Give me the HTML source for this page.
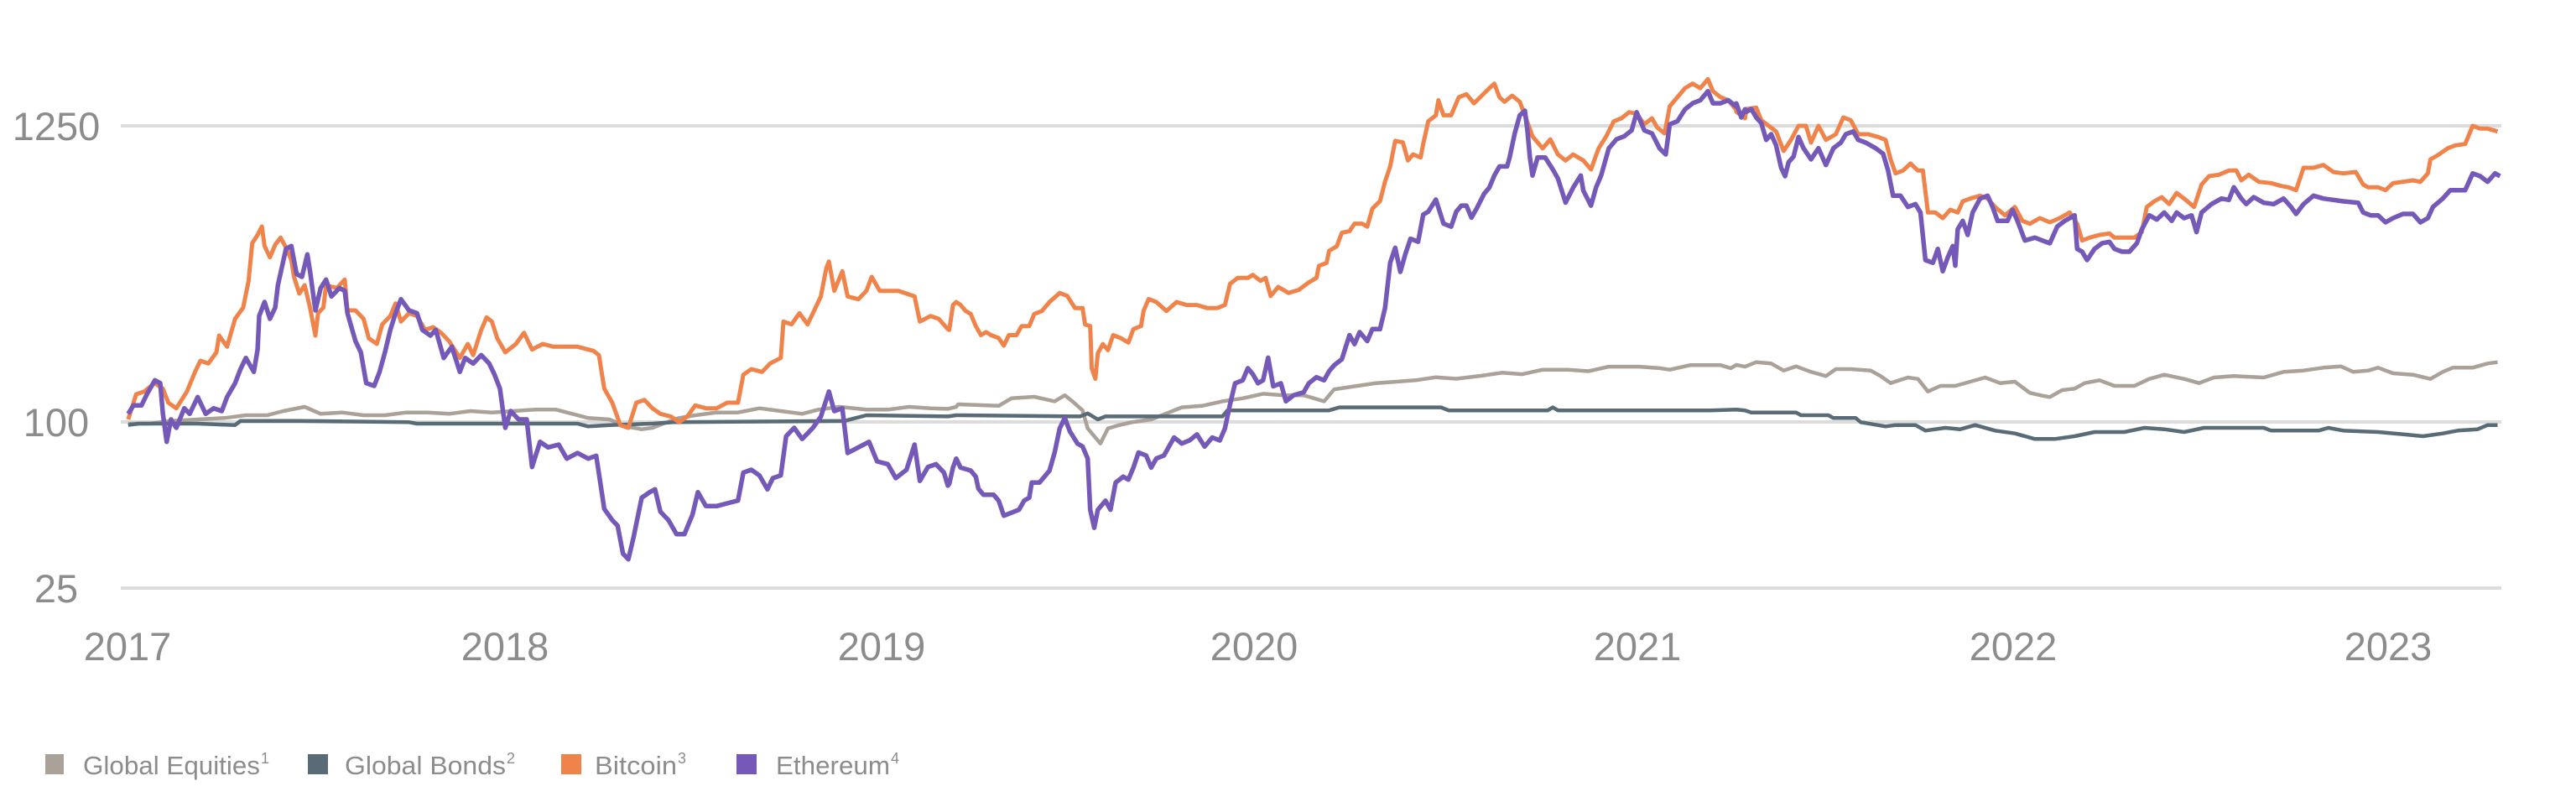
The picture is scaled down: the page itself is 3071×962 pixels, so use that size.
<!DOCTYPE html>
<html><head><meta charset="utf-8">
<style>
html,body{margin:0;padding:0;background:#fff;}
body{width:3071px;height:962px;overflow:hidden;position:relative;font-family:"Liberation Sans",sans-serif;}
svg{position:absolute;left:0;top:0;}
.t{fill:#8c8c8c;font-family:"Liberation Sans",sans-serif;}
</style></head><body>
<svg id="s" width="3071" height="962" viewBox="0 0 3071 962">
<line x1="144" y1="150" x2="2982" y2="150" stroke="#dcdcdc" stroke-width="4"/>
<line x1="144" y1="503" x2="2982" y2="503" stroke="#dcdcdc" stroke-width="4"/>
<line x1="144" y1="701" x2="2982" y2="701" stroke="#dcdcdc" stroke-width="4"/>
<g class="t" font-size="47" text-anchor="middle">
<text x="67" y="167">1250</text>
<text x="67" y="520">100</text>
<text x="67" y="718">25</text>
<text x="152" y="787">2017</text>
<text x="602" y="787">2018</text>
<text x="1051" y="787">2019</text>
<text x="1495" y="787">2020</text>
<text x="1952" y="787">2021</text>
<text x="2400" y="787">2022</text>
<text x="2847" y="787">2023</text>
</g>
<g id="series"></g>
<rect x="54" y="899" width="22" height="24" fill="#aaa198"/>
<rect x="367" y="899" width="24" height="24" fill="#596b76"/>
<rect x="669" y="899" width="24" height="24" fill="#f0834a"/>
<rect x="878" y="899" width="24" height="24" fill="#7559b8"/>
<g class="t" font-size="31">
<text x="99" y="923" textLength="211" lengthAdjust="spacingAndGlyphs">Global Equities</text><text x="311" y="910" font-size="18">1</text>
<text x="411" y="923" textLength="192" lengthAdjust="spacingAndGlyphs">Global Bonds</text><text x="604" y="910" font-size="18">2</text>
<text x="709" y="923" textLength="98" lengthAdjust="spacingAndGlyphs">Bitcoin</text><text x="808" y="910" font-size="18">3</text>
<text x="925" y="923" textLength="136" lengthAdjust="spacingAndGlyphs">Ethereum</text><text x="1062" y="910" font-size="18">4</text>
</g>
</svg>
<script>
var T7=function(p){return [140+p[0]/1.568,180+p[1]/3];};
var T8=function(p){return [1130+p[0]/1.65,80+p[1]/2.786];};
var T9=function(p){return [2070+p[0]/1.686,80+p[1]/3];};
function cv(a,T){var r=[];for(var i=0;i<a.length;i+=2)r.push(T([a[i],a[i+1]]));return r;}
var btc7=[20,960,35,870,50,860,70,830,85,850,95,900,110,920,130,860,145,790,155,750,170,760,185,720,190,660,205,700,220,600,235,560,245,465,252,330,262,300,270,270,275,340,285,380,295,335,305,310,315,345,325,390,330,450,340,510,350,480,360,560,370,660,375,580,385,560,390,480,410,490,425,460,430,570,445,570,460,600,470,670,485,690,495,620,510,590,520,545,530,610,545,580,560,590,575,640,590,630,605,650,620,680,640,740,655,690,665,730,680,640,690,595,700,610,710,670,725,720,745,690,760,650,775,710,795,690,815,700,835,700,860,700,890,715,900,730,910,850,925,900,940,980,955,990,970,900,985,890,1000,920,1015,940,1035,950,1050,970,1065,950,1080,910,1100,920,1120,920,1140,900,1160,900,1170,800,1185,780,1205,790,1220,760,1240,740,1245,610,1260,620,1275,580,1290,620,1305,560,1315,520,1325,420,1330,395,1340,500,1355,430,1365,520,1385,530,1400,500,1410,450,1425,500,1440,500,1460,500,1490,520,1500,610,1520,590,1535,600,1555,640,1568,540];
var eth7=[20,940,30,910,45,910,55,870,70,820,80,830,85,940,92,1040,100,960,110,990,125,920,135,940,150,880,165,940,180,920,195,930,205,880,220,830,230,780,240,740,255,790,262,710,265,590,275,540,285,600,295,560,300,480,315,350,325,340,335,440,345,450,355,370,360,430,370,570,380,490,390,460,400,520,415,490,425,500,430,580,445,680,455,720,465,830,480,840,490,790,500,720,510,640,520,580,530,530,545,570,560,580,570,640,585,660,595,640,610,740,625,700,640,790,650,740,665,760,680,730,695,760,705,800,715,850,725,990,735,930,750,960,765,960,775,1130,790,1040,805,1060,825,1050,840,1100,860,1080,880,1100,895,1090,910,1280,925,1320,935,1340,945,1440,955,1460,965,1380,980,1240,995,1220,1005,1210,1015,1290,1030,1320,1045,1370,1060,1370,1075,1300,1085,1220,1100,1270,1120,1270,1140,1260,1160,1250,1170,1150,1185,1140,1200,1160,1215,1210,1225,1170,1240,1160,1250,1020,1265,990,1280,1030,1300,990,1315,950,1330,860,1340,930,1355,920,1365,1080,1385,1060,1405,1040,1420,1110,1440,1120,1455,1170,1475,1140,1490,1050,1500,1180,1515,1130,1530,1120,1545,1150,1555,1190,1568,1100];
var eq7=[20,975,60,975,100,965,150,960,200,955,240,945,280,945,310,930,350,915,380,940,420,935,460,945,500,945,540,935,580,935,620,940,660,930,700,935,740,930,780,925,820,925,850,940,880,955,920,960,950,985,980,995,1000,990,1020,975,1050,955,1080,945,1120,935,1160,935,1200,920,1240,930,1280,940,1310,925,1350,915,1400,925,1440,925,1480,915,1520,920,1568,915];
var bd7=[20,980,40,975,150,975,220,980,230,965,340,965,545,970,560,975,860,975,880,985,920,980,1000,975,1040,970,1360,965,1380,955,1400,945,1568,945];
var btc8=[0,870,10,790,25,790,35,810,45,820,55,860,65,890,75,880,85,890,100,900,110,925,120,890,135,890,145,860,160,860,170,820,185,810,200,780,220,750,235,760,250,800,265,800,270,855,280,860,283,1000,290,1035,295,950,305,920,315,940,325,890,340,900,355,915,365,870,380,860,385,810,395,770,410,780,430,810,450,780,470,790,490,790,510,800,530,800,545,790,555,720,570,700,590,700,600,690,615,710,625,700,635,760,650,730,670,750,690,740,710,715,725,700,730,660,745,650,750,610,765,595,775,550,790,545,800,520,815,520,825,530,835,470,850,445,860,380,870,330,880,245,895,250,905,310,915,290,930,300,935,255,945,180,960,160,965,110,975,160,990,160,1005,100,1020,90,1035,120,1050,95,1065,70,1075,55,1085,100,1095,115,1110,95,1125,115,1135,160,1150,230,1170,270,1185,240,1200,290,1215,310,1230,290,1250,310,1265,340,1280,270,1295,230,1310,180,1325,170,1340,150,1355,155,1370,190,1385,170,1395,200,1410,220,1420,130,1435,100,1450,70,1465,55,1480,70,1495,40,1505,80,1520,100,1535,110,1550,140,1568,170];
var eth8=[0,1390,10,1330,25,1330,45,1340,55,1360,60,1400,70,1420,90,1420,100,1440,110,1490,125,1480,140,1470,150,1440,160,1430,165,1380,180,1380,190,1360,200,1340,210,1280,220,1200,230,1165,240,1210,255,1250,265,1260,275,1300,280,1470,288,1530,295,1470,310,1440,320,1470,330,1380,345,1360,355,1370,365,1330,375,1280,390,1290,400,1330,410,1300,425,1290,435,1260,445,1230,460,1250,475,1240,490,1220,505,1260,520,1230,535,1240,545,1200,555,1120,565,1050,580,1040,590,1000,600,1020,610,1050,620,1040,630,965,640,1060,655,1050,665,1110,680,1090,700,1080,710,1050,725,1030,740,1040,750,1010,760,990,775,970,790,890,800,920,810,880,825,910,835,870,850,870,860,800,870,650,880,600,890,680,900,620,910,570,925,580,935,490,945,480,960,440,975,520,990,530,1000,480,1010,460,1020,460,1030,500,1040,470,1055,420,1065,400,1075,360,1085,330,1100,330,1105,300,1115,220,1125,160,1135,145,1140,210,1145,300,1150,360,1160,300,1175,300,1190,340,1200,370,1215,450,1230,400,1245,360,1250,410,1265,460,1275,400,1285,360,1300,270,1315,240,1330,230,1345,210,1355,150,1370,210,1385,220,1400,270,1412,290,1420,190,1435,180,1450,140,1465,120,1480,110,1495,80,1505,120,1520,120,1535,110,1550,130,1568,140];
var eq8=[0,1135,20,1120,100,1125,125,1100,170,1095,210,1110,230,1090,245,1110,265,1140,275,1200,300,1250,315,1200,335,1190,360,1180,400,1170,430,1150,460,1130,500,1125,540,1110,580,1100,620,1085,660,1090,700,1090,740,1110,760,1070,800,1060,840,1050,880,1045,920,1040,960,1030,1000,1035,1050,1025,1090,1015,1130,1020,1170,1005,1220,1005,1260,1010,1300,995,1360,995,1400,1000,1420,1005,1460,990,1520,990,1540,1000,1568,995];
var bd8=[0,1160,260,1160,275,1150,295,1170,310,1160,540,1160,550,1140,750,1140,770,1130,970,1130,985,1140,1180,1140,1190,1130,1200,1140,1500,1140,1568,1140];
var btc9=[0,160,20,150,40,145,50,190,65,210,80,230,95,300,110,260,125,210,140,210,150,270,165,210,180,260,200,240,215,180,230,190,245,240,265,240,285,250,300,260,310,330,320,380,335,370,350,345,365,370,375,370,385,520,400,520,415,540,430,510,445,520,455,480,470,470,490,460,505,470,520,500,540,530,560,500,575,550,590,560,610,540,630,555,650,540,670,520,685,560,695,620,710,610,730,600,750,595,760,610,800,610,815,590,825,500,840,480,855,465,870,490,885,450,900,470,920,500,935,420,950,390,970,385,990,370,1005,370,1015,405,1030,385,1050,410,1075,415,1095,425,1110,430,1125,440,1140,360,1160,360,1180,350,1200,375,1220,380,1245,375,1260,420,1270,430,1290,430,1305,440,1320,415,1340,410,1360,405,1375,410,1390,380,1395,330,1410,315,1430,290,1445,280,1465,275,1480,210,1495,220,1510,220,1530,230];
var eth9=[0,130,10,180,20,160,30,150,40,180,50,200,60,260,70,240,80,280,90,360,98,390,105,340,115,320,125,250,135,290,150,330,165,290,180,350,195,290,210,270,220,240,235,230,245,260,260,270,280,290,295,310,305,370,315,460,330,460,345,500,360,490,370,520,380,690,395,700,405,650,415,730,425,680,435,640,440,710,445,580,455,550,465,600,475,520,490,470,505,460,515,500,525,550,545,550,555,510,565,550,580,620,600,610,615,620,630,630,645,570,660,550,680,530,685,650,695,660,705,690,720,650,735,630,750,625,760,650,775,660,790,660,805,630,815,580,830,530,845,545,860,520,875,550,885,520,900,540,915,530,925,590,935,520,955,490,975,470,990,475,1000,430,1015,470,1025,490,1040,465,1060,485,1080,490,1100,470,1115,500,1125,525,1140,490,1160,460,1180,470,1200,475,1220,480,1250,485,1260,520,1275,530,1290,530,1305,555,1320,540,1340,525,1360,525,1375,555,1390,540,1400,500,1420,470,1435,440,1450,440,1465,440,1480,380,1495,390,1510,410,1525,380,1535,390];
var eq9=[0,1065,40,1055,70,1060,95,1085,120,1070,150,1090,180,1105,200,1080,230,1080,270,1085,290,1105,310,1130,345,1110,365,1115,385,1160,410,1140,440,1140,470,1125,500,1110,530,1130,560,1125,590,1165,615,1175,630,1180,655,1155,680,1150,700,1130,730,1120,760,1140,800,1140,830,1115,860,1100,900,1115,930,1130,960,1110,1000,1105,1060,1110,1100,1090,1140,1085,1180,1075,1215,1070,1240,1090,1270,1085,1290,1075,1320,1095,1360,1100,1395,1115,1420,1090,1440,1075,1480,1075,1510,1060,1530,1055];
var bd9=[0,1225,30,1235,120,1235,130,1245,185,1245,195,1255,240,1255,250,1270,300,1285,320,1280,360,1280,380,1300,420,1290,450,1295,480,1280,520,1300,560,1310,600,1330,640,1330,680,1320,720,1305,780,1305,820,1290,860,1295,900,1305,940,1290,1060,1290,1075,1300,1170,1300,1190,1290,1220,1300,1290,1305,1350,1315,1380,1320,1420,1310,1450,1300,1490,1295,1510,1280,1530,1280];
function build(a,b,c){
  var p=cv(a,T7).concat(cv(b,T8)).concat(cv(c,T9));
  p.sort(function(x,y){return x[0]-y[0];});
  return p.map(function(q){return q[0].toFixed(1)+','+q[1].toFixed(1);}).join(' ');
}
var g=document.getElementById('series');
var defs=[[eq7,eq8,eq9,'#aaa198',4.5],[bd7,bd8,bd9,'#596b76',4.5],[btc7,btc8,btc9,'#f0834a',5],[eth7,eth8,eth9,'#7559b8',5.5]];
var ns='http://www.w3.org/2000/svg';
defs.forEach(function(d){
  var pl=document.createElementNS(ns,'polyline');
  pl.setAttribute('points',build(d[0],d[1],d[2]));
  pl.setAttribute('fill','none');
  pl.setAttribute('stroke',d[3]);
  pl.setAttribute('stroke-width',d[4]);
  pl.setAttribute('stroke-linejoin','round');
  g.appendChild(pl);
});
</script>
</body></html>
